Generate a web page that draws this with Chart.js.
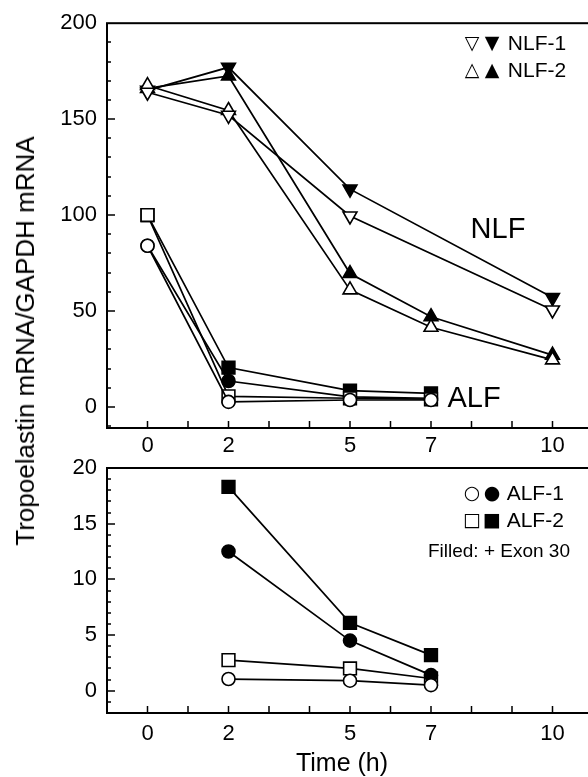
<!DOCTYPE html>
<html>
<head>
<meta charset="utf-8">
<script src="https://cdn.jsdelivr.net/npm/chart.js@4"></script>
<style>
  body { margin: 0; width: 588px; height: 777px; overflow: hidden; background: #fff; position: relative; font-family: "Liberation Sans", Arial, sans-serif; color: #000; }
  canvas { position: absolute; left: 0; }
  .t { position: absolute; white-space: nowrap; line-height: 1; }
  .c { transform: translate(-50%, -50%); }
  .row { position: absolute; left: 462px; white-space: nowrap; font-size: 21px; line-height: 1; transform: translateY(-50%); }
  .sym { font-family: "DejaVu Sans", sans-serif; font-size: 19px; display: inline-block; width: 20px; text-align: center; vertical-align: 1px; }
</style>
</head>
<body>
<canvas id="top" width="620" height="460" style="top:0"></canvas>
<canvas id="bottom" width="620" height="337" style="top:440px"></canvas>

<div class="t c" style="left:25px; top:341px; font-size:26px; transform: translate(-50%, -50%) rotate(-90deg);">Tropoelastin mRNA/GAPDH mRNA</div>
<div class="t c" style="left:342px; top:762px; font-size:25px;">Time (h)</div>

<div class="row" style="top:42px"><span class="sym">▽</span><span class="sym">▼</span> NLF-1</div>
<div class="row" style="top:69px"><span class="sym">△</span><span class="sym">▲</span> NLF-2</div>
<div class="t c" style="left:498px; top:228px; font-size:29px;">NLF</div>
<div class="t c" style="left:474px; top:397px; font-size:29px;">ALF</div>

<div class="row" style="top:492px"><span class="sym">○</span><span class="sym">●</span> ALF-1</div>
<div class="row" style="top:519px"><span class="sym">□</span><span class="sym">■</span> ALF-2</div>
<div class="t" style="right:18px; top:541px; font-size:19px;">Filled: + Exon 30</div>

<script>
// time points (h)
const xTickLabels = [0, 2, 5, 7, 10];
const nlf1Times = [0, 2, 5, 10];
const nlf2Times = [0, 2, 5, 7, 10];
const alfTopTimes = [0, 2, 5, 7];
const alfBottomTimes = [2, 5, 7];

// top panel, NLF
const nlf1Open = [164, 152, 99.5, 50.5];
const nlf1Filled = [165, 177, 113.5, 57];
const nlf2Open = [167.5, 154.5, 61, 41.5, 24.5];
const nlf2Filled = [166, 172.5, 69.5, 47, 27];

// top panel, ALF
const alf1OpenTop = [84, 2.6, 3.6, 3.6];
const alf1FilledTop = [84, 13.5, 5.2, 4.5];
const alf2OpenTop = [100, 5.5, 4.5, 4];
const alf2FilledTop = [100, 20.5, 8.5, 7];

// bottom panel, ALF
const alf1Open = [1.05, 0.9, 0.5];
const alf1Filled = [12.5, 4.5, 1.4];
const alf2Open = [2.75, 2.0, 1.1];
const alf2Filled = [18.3, 6.1, 3.2];

const topYTicks = [0, 50, 100, 150, 200];
const bottomYTicks = [0, 5, 10, 15, 20];

const FONT = '"Liberation Sans", Arial, sans-serif';
const pts = (ts, vs) => ts.map((t, i) => ({x: t, y: vs[i]}));

function series(ts, vs, shape, filled, down) {
  const big = shape === 'rect' ? 9 : shape === 'triangle' ? 8 : 6.5;
  return {
    data: pts(ts, vs),
    borderColor: '#000',
    borderWidth: 1.7,
    pointStyle: shape,
    pointRotation: down ? 180 : 0,
    pointRadius: big,
    pointBorderWidth: 1.6,
    pointBorderColor: '#000',
    pointBackgroundColor: filled ? '#000' : '#fff',
    tension: 0
  };
}

// frame and inward ticks
const frame = {
  id: 'frame',
  beforeDatasetsDraw(chart, args, opts) {
    const {ctx, chartArea: a, scales: {x, y}} = chart;
    ctx.save();
    ctx.strokeStyle = '#000';
    ctx.lineWidth = 2;
    ctx.strokeRect(a.left, a.top, a.right - a.left, a.bottom - a.top);
    ctx.lineWidth = 1.5;
    ctx.beginPath();
    for (let v = 0; v <= 10; v++) {
      const px = x.getPixelForValue(v);
      ctx.moveTo(px, a.bottom);
      ctx.lineTo(px, a.bottom - 7);
    }
    for (let v = opts.yFrom; v < y.max; v += opts.yMinor) {
      const py = Math.round(y.getPixelForValue(v));
      const len = v % opts.yMajor === 0 ? 8 : 4;
      ctx.moveTo(a.left, py);
      ctx.lineTo(a.left + len, py);
    }
    ctx.stroke();
    ctx.restore();
  }
};

function makeChart(id, datasets, yMin, yMax, yTicks, pad, xHeight, xPad, frameOpts) {
  return new Chart(document.getElementById(id), {
    type: 'line',
    data: {datasets},
    options: {
      responsive: false,
      animation: false,
      layout: {padding: pad},
      plugins: {legend: {display: false}, tooltip: {enabled: false}, frame: frameOpts},
      scales: {
        x: {
          type: 'linear', min: -1, max: 11,
          grid: {display: false, drawTicks: false},
          border: {display: false},
          ticks: {color: '#000', font: {family: FONT, size: 22}, padding: xPad, autoSkip: false, maxRotation: 0},
          afterBuildTicks: s => { s.ticks = xTickLabels.map(v => ({value: v})); },
          afterFit: s => { s.height = xHeight; }
        },
        y: {
          min: yMin, max: yMax,
          grid: {display: false, drawTicks: false},
          border: {display: false},
          ticks: {color: '#000', font: {family: FONT, size: 22}, padding: 10},
          afterBuildTicks: s => { s.ticks = yTicks.map(v => ({value: v})); },
          afterFit: s => { s.width = 107; }
        }
      }
    },
    plugins: [frame]
  });
}

makeChart('top', [
  series(nlf1Times, nlf1Open, 'triangle', false, true),
  series(nlf2Times, nlf2Open, 'triangle', false, false),
  series(nlf1Times, nlf1Filled, 'triangle', true, true),
  series(nlf2Times, nlf2Filled, 'triangle', true, false),
  series(alfTopTimes, alf1OpenTop, 'circle', false),
  series(alfTopTimes, alf2OpenTop, 'rect', false),
  series(alfTopTimes, alf2FilledTop, 'rect', true),
  series(alfTopTimes, alf1FilledTop, 'circle', true)
], -11, 200, topYTicks, {left: 0, top: 17, right: 27, bottom: 0}, 32, 5,
  {yFrom: -10, yMinor: 10, yMajor: 50});

makeChart('bottom', [
  series(alfBottomTimes, alf1Open, 'circle', false),
  series(alfBottomTimes, alf1Filled, 'circle', true),
  series(alfBottomTimes, alf2Open, 'rect', false),
  series(alfBottomTimes, alf2Filled, 'rect', true)
], -2, 20, bottomYTicks, {left: 0, top: 28, right: 27, bottom: 0}, 64, 8,
  {yFrom: -1, yMinor: 1, yMajor: 5});
</script>
</body>
</html>
